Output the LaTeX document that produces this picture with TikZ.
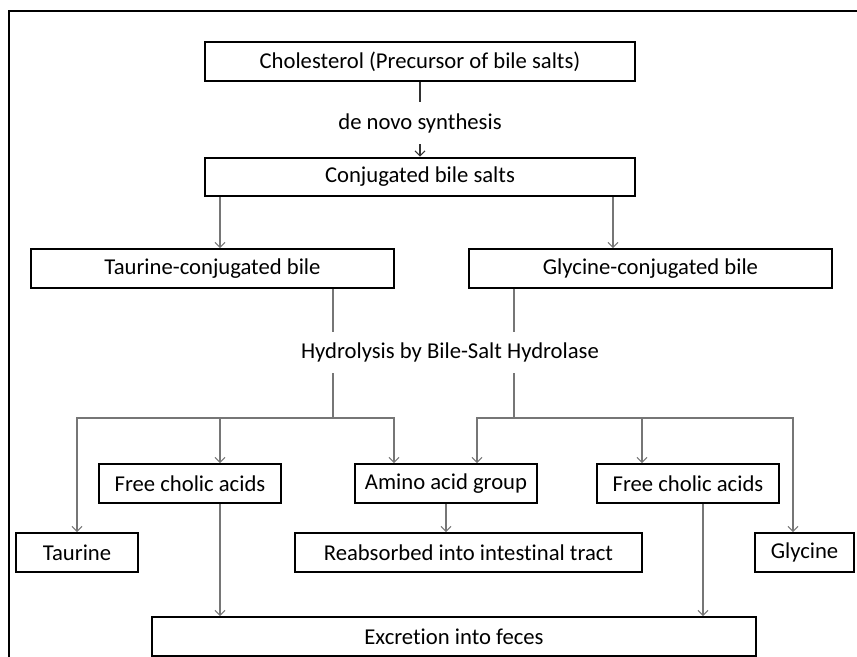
\documentclass[tikz,border=0pt]{standalone}
\usepackage{fontspec}
\setmainfont{Carlito}[Ligatures=NoCommon]
\usetikzlibrary{arrows.meta}
\definecolor{conngray}{RGB}{118,118,118}
\definecolor{darkwire}{RGB}{50,50,50}
\begin{document}
\begin{tikzpicture}[x=0.75pt,y=-0.75pt,
  box/.style={draw=black,line width=1.5pt,inner sep=0pt,minimum height=29pt,
    font=\fontsize{17}{20}\selectfont,text=black},
  lbl/.style={inner sep=0pt,font=\fontsize{17}{20}\selectfont,text=black},
  wire/.style={draw=conngray,line width=0.8pt},
  conn/.style={wire,-{Straight Barb[length=3.8pt,width=7.5pt,line width=0.8pt]}}]
\useasboundingbox (0,0) rectangle (857,657);
\draw[line width=1.5pt,black] (9,657) -- (9,11) -- (857,11);
% boxes
\node[box,minimum width=322.5pt] (chol) at (420,61.5) {Cholesterol (Precursor of bile salts)};
\node[lbl,minimum height=31.5pt] (dns) at (420,123) {de novo synthesis};
\node[box,minimum width=322.5pt] (conj) at (420,177) {Conjugated bile salts};
\node[box,minimum width=272.25pt] (tcb) at (212.5,268.5) {Taurine-conjugated bile};
\node[box,minimum width=272.25pt] (gcb) at (650.5,268.5) {Glycine-conjugated bile};
\node[lbl,minimum height=30.75pt] (hyd) at (450,352.5) {Hydrolysis by Bile-Salt Hydrolase};
\node[box,minimum width=136.5pt] (fcl) at (190,483.5) {Free cholic acids};
\node[box,minimum width=136.5pt] (aag) at (446,483.5) {Amino acid group};
\node[box,minimum width=136.5pt] (fcr) at (688,483.5) {Free cholic acids};
\node[box,minimum width=91.5pt] (tau) at (77,552.5) {Taurine};
\node[box,minimum width=260.25pt] (rea) at (468.5,552.5) {Reabsorbed into intestinal tract};
\node[box,minimum width=74.25pt] (gly) at (804.5,552.5) {Glycine};
\node[box,minimum width=453pt] (exc) at (454,636.5) {Excretion into feces};
\coordinate (tj) at (333,418);
\coordinate (gj) at (514,418);
% connectors
\draw[wire,draw=darkwire] (chol) -- (dns);
\draw[conn,draw=darkwire] (dns) -- (conj);
\draw[conn] (conj.south -| 220,0) -- (tcb.north -| 220,0);
\draw[conn] (conj.south -| 613,0) -- (gcb.north -| 613,0);
\draw[wire] (tcb.south -| tj) -- (hyd.north -| tj);
\draw[wire] (hyd.south -| tj) -- (tj);
\draw[wire] (gcb.south -| gj) -- (hyd.north -| gj);
\draw[wire] (hyd.south -| gj) -- (gj);
\draw[conn] (tj) -| (tau);
\draw[conn] (tj -| 220,0) -- (fcl.north -| 220,0);
\draw[conn] (tj) -| (aag.north -| 394,0);
\draw[conn] (gj) -| (aag.north -| 477,0);
\draw[conn] (gj -| 642,0) -- (fcr.north -| 642,0);
\draw[conn] (gj) -| (gly.north -| 793,0);
\draw[conn] (aag) -- (rea.north -| aag);
\draw[conn] (fcl.south -| 220,0) -- (exc.north -| 220,0);
\draw[conn] (fcr.south -| 703,0) -- (exc.north -| 703,0);
\end{tikzpicture}
\end{document}
